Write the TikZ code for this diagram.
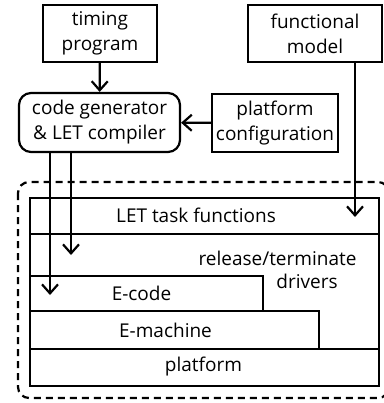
\documentclass[tikz,border=0pt]{standalone}
\usepackage{fontspec}
\setmainfont{Open Sans}
\usetikzlibrary{arrows.meta,positioning}
\begin{document}
\begin{tikzpicture}[x=1pt,y=-1pt,
  every node/.style={font=\fontsize{19}{25}\selectfont},
  box/.style={draw,line width=2.2pt,inner sep=0pt,align=center},
  layer/.style={draw,line width=2.2pt,inner sep=0pt,anchor=north west},
  lbl/.style={inner sep=0pt},
  arr/.style={line width=2.2pt,-{Straight Barb[length=9pt,width=16pt,line width=2.2pt]}}]
\useasboundingbox (0,0) rectangle (383,403);
% dashed container
\draw[line width=2.2pt,dash pattern=on 7pt off 5pt,rounded corners=11pt] (18,182) rectangle (389,398);
% top boxes
\node[box,minimum width=114pt,minimum height=57pt] (timing) at (100,33.5) {timing\\program};
\node[box,minimum width=134pt,minimum height=57pt] (func) at (315,33.5) {functional\\model};
\node[box,rounded corners=12pt,minimum width=161pt,minimum height=59pt] (codegen) at (99.5,122.5) {code generator\\\&~LET compiler};
\node[box,minimum width=126pt,minimum height=58pt] (platcfg) at (275,123) {platform\\configuration};
% layers
\node[layer,minimum width=349pt,minimum height=115pt] (rel) at (29,233) {};
\node[layer,minimum width=349pt,minimum height=36pt] (let) at (29,197) {};
\node[layer,minimum width=233pt,minimum height=35pt] (ecode) at (29,275) {};
\node[layer,minimum width=289pt,minimum height=38pt] (emach) at (29,310) {};
\node[layer,minimum width=349pt,minimum height=37pt] (plat) at (29,348) {};
% labels
\node[lbl] (letl) at (196,215) {LET task functions};
\node[lbl] (rell1) at (277.5,258) {release/terminate};
\node[lbl] (rell2) at (307,281) {drivers};
\node[lbl] (ecodel) at (141.5,293) {E-code};
\node[lbl] (emachl) at (165.5,330) {E-machine};
\node[lbl] (platl) at (203.5,367) {platform};
% arrows
\coordinate (ftip) at (355,217);
\coordinate (rtip) at (71,255);
\coordinate (etip) at (50,295);
\draw[arr] (timing) -- (codegen);
\draw[arr] (platcfg) -- (codegen);
\draw[arr] (func.south -| ftip) -- (ftip);
\draw[arr] (codegen.south -| rtip) -- (rtip);
\draw[arr] (codegen.south -| etip) -- (etip);
\end{tikzpicture}
\end{document}
